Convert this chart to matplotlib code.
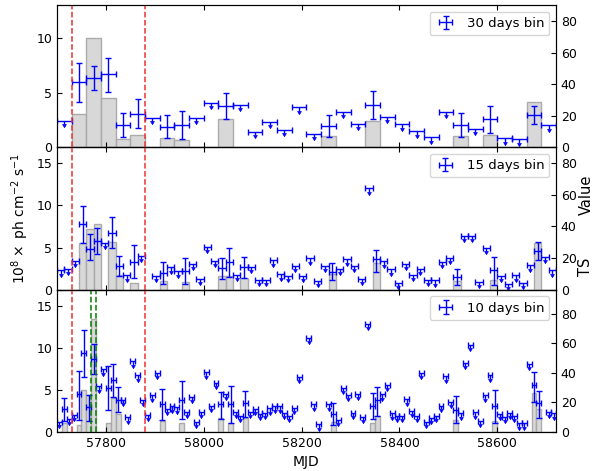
import numpy as np
import matplotlib
matplotlib.use("Agg")
import matplotlib.pyplot as plt

nan = np.nan

# ---------------- 30 days bin (top panel) ----------------
mjd30 = [57715, 57745, 57775, 57805, 57835, 57865, 57895, 57925, 57955, 57985,
         58015, 58045, 58075, 58105, 58135, 58165, 58195, 58225, 58255, 58285,
         58315, 58345, 58375, 58405, 58435, 58465, 58495, 58525, 58555, 58585,
         58615, 58645, 58675, 58705]
flux30 = [2.39, 5.96, 6.33, 6.70, 2.05, 3.09, 2.69, 1.90, 2.05, 2.69,
          4.07, 3.79, 3.88, 1.44, 2.32, 1.62, 3.64, 1.20, 1.93, 3.27,
          2.17, 3.88, 2.81, 2.11, 1.47, 0.92, 3.27, 2.02, 1.71, 2.60,
          0.83, 0.73, 2.97, 2.02]
lo30 = [nan, 4.13, 5.20, 5.08, 0.95, 1.77, nan, 0.89, 0.80, nan,
        nan, 2.57, nan, nan, nan, nan, nan, nan, 0.92, nan,
        nan, 2.60, nan, nan, nan, nan, nan, 0.92, nan, 1.28,
        nan, nan, 2.17, nan]
hi30 = [nan, 7.70, 7.43, 8.20, 3.12, 4.37, nan, 2.94, 3.33, nan,
        nan, 5.00, nan, nan, nan, nan, nan, nan, 2.94, nan,
        nan, 5.10, nan, nan, nan, nan, nan, 3.12, nan, 3.82,
        nan, nan, 3.73, nan]
ts30 = [0, 21.4, 69.2, 31.4, 5.5, 7.6, 0, 5.9, 4.5, 0,
        0, 17.8, 0, 0, 0, 0, 0, 0, 7.0, 0,
        0, 17.0, 0, 0, 0, 0, 0, 7.0, 0, 8.0,
        0, 0, 28.5, 0]

# ---------------- 15 days bin (middle panel) ----------------
mjd15 = [57707.5, 57722.5, 57737.5, 57752.5, 57767.5, 57782.5, 57797.5, 57812.5,
         57827.5, 57842.5, 57857.5, 57872.5, 57887.5, 57902.5, 57917.5, 57932.5,
         57947.5, 57962.5, 57977.5, 57992.5, 58007.5, 58022.5, 58037.5, 58052.5,
         58067.5, 58082.5, 58097.5, 58112.5, 58127.5, 58142.5, 58157.5, 58172.5,
         58187.5, 58202.5, 58217.5, 58232.5, 58247.5, 58262.5, 58277.5, 58292.5,
         58307.5, 58322.5, 58337.5, 58352.5, 58367.5, 58382.5, 58397.5, 58412.5,
         58427.5, 58442.5, 58457.5, 58472.5, 58487.5, 58502.5, 58517.5, 58532.5,
         58547.5, 58562.5, 58577.5, 58592.5, 58607.5, 58622.5, 58637.5, 58652.5,
         58667.5, 58682.5, 58697.5, 58712.5]
flux15 = [2.31, 2.51, 3.43, 7.78, 4.82, 5.82, 5.58, 6.78, 2.79, 1.71,
          3.31, 4.03, nan, 1.63, 1.99, 2.67, 2.19, 2.19, 3.07, 1.28,
          5.10, 3.40, 2.60, 3.25, 1.79, 2.71, 2.71, 1.20, 1.20, 3.47,
          1.83, 1.63, 2.83, 1.63, 3.71, 1.04, 2.83, 2.11, 2.51, 3.59,
          2.83, 1.32, 12.04, 3.59, 3.35, 2.41, 0.84, 3.07, 1.79, 2.51,
          1.20, 1.12, 3.31, 3.79, 1.52, 6.38, 6.38, 0.92, 4.98, 2.31,
          1.63, 0.68, 1.71, 0.80, 2.91, 4.59, 3.87, 2.31]
lo15 = [nan, nan, nan, 5.58, 3.51, 4.27, nan, 4.98, 1.59, nan,
        1.36, nan, nan, nan, 0.72, nan, nan, 0.72, nan, nan,
        nan, nan, 1.30, 1.50, nan, 1.40, nan, nan, nan, nan,
        nan, nan, nan, nan, nan, nan, nan, 1.12, nan, nan,
        nan, nan, nan, 2.11, nan, nan, nan, nan, nan, nan,
        nan, nan, nan, nan, 0.60, nan, nan, nan, nan, 0.60,
        nan, nan, nan, nan, nan, 3.51, nan, nan]
hi15 = [nan, nan, nan, 9.97, 6.58, 7.30, nan, 8.57, 3.99, nan,
        5.26, nan, nan, nan, 3.31, nan, nan, 3.79, nan, nan,
        nan, nan, 3.75, 4.97, nan, 3.90, nan, nan, nan, nan,
        nan, nan, nan, nan, nan, nan, nan, 3.11, nan, nan,
        nan, nan, nan, 4.70, nan, nan, nan, nan, nan, nan,
        nan, nan, nan, nan, 2.43, nan, nan, nan, nan, 3.83,
        nan, nan, nan, nan, nan, 5.70, nan, nan]
ts15 = [0, 0, 0, 29.7, 38.2, 41.7, 0, 29.8, 9.0, 0,
        4.4, 0, 0, 0, 5.5, 0, 0, 4.6, 0, 0,
        0, 0, 8.7, 8.7, 0, 7.2, 0, 0, 0, 0,
        0, 0, 0, 0, 0, 0, 0, 9.6, 0, 0,
        0, 0, 0, 16.6, 0, 0, 0, 0, 0, 0,
        0, 0, 0, 0, 5.3, 0, 0, 0, 0, 5.9,
        0, 0, 0, 0, 0, 29.7, 0, 0]

# ---------------- 10 days bin (bottom panel) ----------------
mjd10 = [57705, 57715, 57725, 57735, 57745, 57755, 57765, 57775, 57785, 57795,
         57805, 57815, 57825, 57835, 57845, 57855, 57865, 57875, 57885, 57895,
         57905, 57915, 57925, 57935, 57945, 57955, 57965, 57975, 57985, 57995,
         58005, 58015, 58025, 58035, 58045, 58055, 58065, 58075, 58085, 58095,
         58105, 58115, 58125, 58135, 58145, 58155, 58165, 58175, 58185, 58195,
         58205, 58215, 58225, 58235, 58245, 58255, 58265, 58275, 58285, 58295,
         58305, 58315, 58325, 58335, 58345, 58355, 58365, 58375, 58385, 58395,
         58405, 58415, 58425, 58435, 58445, 58455, 58465, 58475, 58485, 58495,
         58505, 58515, 58525, 58535, 58545, 58555, 58565, 58575, 58585, 58595,
         58605, 58615, 58625, 58635, 58645, 58655, 58665, 58675, 58685, 58695,
         58705, 58715]
flux10 = [1.20, 2.71, 1.58, 2.05, 4.50, 9.35, 3.00, 8.71, 5.43, 7.46,
          5.18, 6.18, 3.84, 3.84, 1.74, 8.39, 6.74, 3.80, 2.05, 4.34,
          7.04, 3.30, 2.77, 3.05, 2.95, 3.80, 2.41, 4.20, 1.22, 2.41,
          7.08, 3.12, 5.87, 3.32, 4.50, 3.30, 2.37, 1.89, 3.50, 2.37,
          2.77, 2.17, 2.27, 2.80, 3.05, 3.05, 2.30, 1.89, 2.90, 6.52,
          nan, 11.18, 3.30, 0.92, nan, 3.30, 2.11, 1.44, 5.21, 4.42,
          2.31, 4.53, 1.83, 12.85, 3.03, 3.82, 4.49, 5.60, 2.23, 1.91,
          1.91, 3.90, 2.55, 1.91, 7.00, 1.24, 1.71, 1.91, 3.14, 6.60,
          3.62, 2.63, 2.23, 8.19, 10.38, 2.35, 1.36, 4.34, 6.72, 3.14,
          2.15, 1.83, 2.31, 1.91, 1.03, 1.03, 8.11, 5.61, 3.42, nan,
          2.43, 2.23]
lo10 = [nan, 1.30, nan, nan, 1.38, 6.49, 1.35, 6.84, nan, nan,
        2.66, 4.13, 2.35, nan, nan, nan, nan, nan, nan, nan,
        nan, 1.41, nan, nan, nan, 1.51, nan, nan, nan, nan,
        nan, nan, nan, 1.60, nan, 1.05, nan, nan, 1.80, nan,
        nan, nan, nan, nan, nan, nan, nan, nan, nan, nan,
        nan, nan, nan, nan, nan, nan, 0.84, nan, nan, nan,
        nan, nan, nan, nan, 1.51, 1.91, nan, nan, nan, nan,
        nan, nan, nan, nan, nan, nan, nan, nan, nan, nan,
        nan, 1.04, nan, nan, nan, nan, nan, nan, nan, 1.04,
        nan, nan, nan, nan, nan, nan, nan, 3.62, 1.63, nan,
        nan, nan]
hi10 = [nan, 4.08, nan, nan, 7.26, 12.09, 4.37, 10.48, nan, nan,
        7.79, 8.09, 5.38, nan, nan, nan, nan, nan, nan, nan,
        nan, 5.11, nan, nan, nan, 6.05, nan, nan, nan, nan,
        nan, nan, nan, 4.78, nan, 5.49, nan, nan, 4.91, nan,
        nan, nan, nan, nan, nan, nan, nan, nan, nan, nan,
        nan, nan, nan, nan, nan, nan, 3.42, nan, nan, nan,
        nan, nan, nan, nan, 4.69, 5.33, nan, nan, nan, nan,
        nan, nan, nan, nan, nan, nan, nan, nan, nan, nan,
        nan, 4.22, nan, nan, nan, nan, nan, nan, nan, 5.01,
        nan, nan, nan, nan, nan, nan, nan, 7.08, 4.81, nan,
        nan, nan]
ts10 = [0, 6.0, 0, 0, 4.7, 28.2, 24.9, 76.4, 0, 0,
        6.1, 23.0, 12.0, 0, 0, 0, 0, 0, 0, 0,
        0, 7.5, 0, 0, 0, 6.4, 0, 0, 0, 0,
        0, 0, 0, 9.8, 0, 6.2, 0, 0, 9.8, 0,
        0, 0, 0, 0, 0, 0, 0, 0, 0, 0,
        0, 0, 0, 0, 0, 0, 7.0, 0, 0, 0,
        0, 0, 0, 0, 5.9, 10.9, 0, 0, 0, 0,
        0, 0, 0, 0, 0, 0, 0, 0, 0, 0,
        0, 8.2, 0, 0, 0, 0, 0, 0, 0, 7.5,
        0, 0, 0, 0, 0, 0, 0, 26.3, 15.4, 0,
        0, 0]

red_lines = [57730, 57880]
green_lines = [57770, 57780]
xticks = [57800, 58000, 58200, 58400, 58600]

# ---------------- drawing ----------------
BLUE = "#0000ff"
arrow_head = [(-0.6, 0.0), (0.6, 0.0), (0.0, -1.0), (-0.6, 0.0)]


def panel(ax, mjd, width, flux, lo, hi, ts, label, fmax, tsmax, arrow):
    mjd = np.asarray(mjd, float)
    flux = np.asarray(flux, float)
    lo = np.asarray(lo, float)
    hi = np.asarray(hi, float)
    ts = np.asarray(ts, float)
    tw = ax.twinx()
    tw.bar(mjd, ts, width=width, facecolor="#d6d6d6", edgecolor="#a8a8a8",
           linewidth=1.0, alpha=0.95)
    tw.set_ylim(0, tsmax)
    tw.set_yticks([0, 20, 40, 60, 80])
    tw.tick_params(direction="in", labelsize=9)
    ax.set_zorder(tw.get_zorder() + 1)
    ax.patch.set_visible(False)

    valid = ~np.isnan(flux)
    det = valid & ~np.isnan(lo)
    ul = valid & np.isnan(lo)
    ax.errorbar(mjd[det], flux[det], xerr=width / 2,
                yerr=[flux[det] - lo[det], hi[det] - flux[det]],
                fmt="none", ecolor=BLUE, elinewidth=1.0, capsize=2,
                capthick=1.0, label=label)
    ax.errorbar(mjd[ul], flux[ul], xerr=width / 2, fmt="none", ecolor=BLUE,
                elinewidth=1.0, capsize=2, capthick=1.0)
    ax.vlines(mjd[ul], flux[ul] - arrow, flux[ul], color=BLUE, lw=1.0)
    ax.plot(mjd[ul], flux[ul] - arrow, ls="none", marker=arrow_head,
            ms=4.5, color=BLUE, mec=BLUE, mew=0.5)
    ax.set_ylim(0, fmax)
    ax.tick_params(direction="in", top=True, right=False, labelsize=9)
    leg = ax.legend(loc="upper right", fontsize=9.5, handlelength=1.6)
    for lx in red_lines:
        ax.axvline(lx, color="#ee3333", ls="--", lw=1.1)
    return tw


fig = plt.figure(figsize=(6.12, 4.71), dpi=100)
axes = fig.subplots(3, 1, sharex=True)
fig.subplots_adjust(left=57 / 612, right=556 / 612, top=1 - 5 / 471,
                    bottom=1 - 432 / 471, hspace=0)

panel(axes[0], mjd30, 30, flux30, lo30, hi30, ts30, "30 days bin", 13.0, 90.4, 0.3)
panel(axes[1], mjd15, 15, flux15, lo15, hi15, ts15, "15 days bin", 16.9, 89.8, 0.4)
panel(axes[2], mjd10, 10, flux10, lo10, hi10, ts10, "10 days bin", 16.9, 96.3, 0.4)

axes[0].set_yticks([0, 5, 10])
axes[1].set_yticks([0, 5, 10, 15])
axes[2].set_yticks([0, 5, 10, 15])
for gx in green_lines:
    axes[2].axvline(gx, color="green", ls="--", lw=1.1)

axes[2].set_xlim(57700, 58720)
axes[2].set_xticks(xticks)
axes[2].set_xlabel("MJD", fontsize=10)
axes[1].set_ylabel(r"$10^8\times$ ph cm$^{-2}$ s$^{-1}$", fontsize=10)

fig.text(586 / 612, 1 - 195 / 471, "Value", rotation=90, ha="center",
         va="center", fontsize=10.5)
fig.text(586 / 612, 1 - 267 / 471, "TS", rotation=90, ha="center",
         va="center", fontsize=10.5)

fig.savefig("out.png", dpi=100)
